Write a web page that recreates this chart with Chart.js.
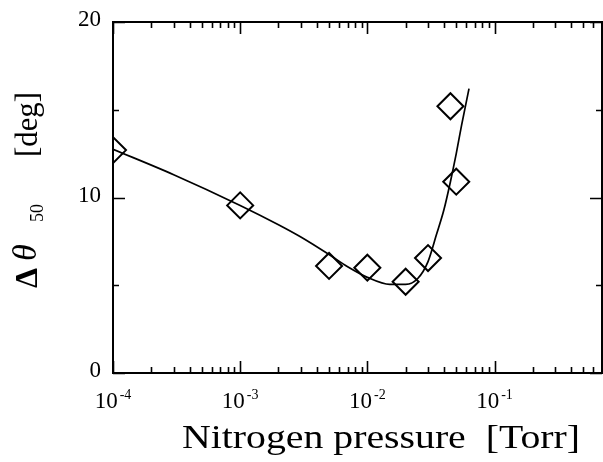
<!DOCTYPE html>
<html lang="en">
<head>
    <meta charset="UTF-8">
    <title>Nitrogen pressure dependence</title>
    <script src="https://cdn.jsdelivr.net/npm/chart.js"></script>
    <style>
        body {
            margin: 0;
            background-color: #fff;
        }
        #wrap {
            width: 603px;
            height: 462px;
        }
    </style>
</head>
<body>
    <div id="wrap"><canvas id="chart" width="603" height="462"></canvas></div>

    <script>
        // measured points
        const pressure = [1e-4, 1e-3, 5e-3, 1e-2, 2e-2, 3e-2, 4.5e-2, 5e-2];
        const dTheta = [12.7, 9.55, 6.1, 6.0, 5.2, 6.55, 15.2, 10.9];

        // fitted curve
        const fitPressure = [1e-4, 3e-4, 1e-3, 2e-3, 3e-3, 5e-3, 7e-3, 1e-2, 1.5e-2, 2e-2, 2.5e-2, 3e-2, 3.5e-2, 4e-2, 4.5e-2, 5e-2, 5.5e-2, 6.3e-2];
        const fitTheta = [12.75, 11.3, 9.55, 8.45, 7.75, 6.75, 6.05, 5.45, 5.05, 5.05, 5.4, 6.35, 7.9, 9.3, 10.9, 12.5, 14.1, 16.2];

        // axes
        const xDecades = [1e-4, 1e-3, 1e-2, 1e-1];
        const xDecadeExp = ['-4', '-3', '-2', '-1'];
        const yLabelTicks = [0, 10, 20];
        const yMinorTicks = [5, 15];
        const xMin = 1e-4, xMax = 0.7;

        const FONT = '"Liberation Serif", "Times New Roman", serif';

        const framePlugin = {
            id: 'frame',
            afterDatasetsDraw(chart) {
                const ctx = chart.ctx;
                const a = chart.chartArea;
                const xs = chart.scales.x;
                const ys = chart.scales.y;
                ctx.save();
                ctx.strokeStyle = '#000';
                ctx.fillStyle = '#000';

                // box
                ctx.lineWidth = 2;
                ctx.strokeRect(a.left, a.top, a.right - a.left, a.bottom - a.top);

                // x ticks (inward, bottom and top)
                ctx.lineWidth = 1.6;
                const xTick = (v, len) => {
                    const px = Math.round(xs.getPixelForValue(v)) + 0.5;
                    ctx.beginPath();
                    ctx.moveTo(px, a.bottom); ctx.lineTo(px, a.bottom - len);
                    ctx.moveTo(px, a.top); ctx.lineTo(px, a.top + len);
                    ctx.stroke();
                };
                xDecades.forEach(d => {
                    xTick(d, 12);
                    for (let m = 2; m <= 9; m++) {
                        if (d * m <= xMax * 1.0001) xTick(d * m, 6);
                    }
                });

                // y ticks (inward, left and right)
                const yTick = (v, len) => {
                    const py = Math.round(ys.getPixelForValue(v)) + 0.5;
                    ctx.beginPath();
                    ctx.moveTo(a.left, py); ctx.lineTo(a.left + len, py);
                    ctx.moveTo(a.right, py); ctx.lineTo(a.right - len, py);
                    ctx.stroke();
                };
                yLabelTicks.forEach(v => yTick(v, 12));
                yMinorTicks.forEach(v => yTick(v, 6));

                // y tick labels
                ctx.font = '23px ' + FONT;
                ctx.textAlign = 'right';
                ctx.textBaseline = 'middle';
                yLabelTicks.forEach(v => {
                    ctx.fillText(String(v), a.left - 12, ys.getPixelForValue(v) - 2);
                });

                // x tick labels 10^n
                ctx.textAlign = 'left';
                ctx.textBaseline = 'alphabetic';
                xDecades.forEach((d, i) => {
                    const px = xs.getPixelForValue(d);
                    ctx.font = '23px ' + FONT;
                    const wBase = ctx.measureText('10').width;
                    ctx.font = '14px ' + FONT;
                    const wExp = ctx.measureText(xDecadeExp[i]).width;
                    const start = px - (wBase + 2 + wExp) / 2;
                    ctx.font = '23px ' + FONT;
                    ctx.fillText('10', start, 408);
                    ctx.font = '14px ' + FONT;
                    ctx.fillText(xDecadeExp[i], start + wBase + 2, 399);
                });

                // x title, stretched a little to the reference width
                ctx.font = '34px ' + FONT;
                const xTitle = 'Nitrogen pressure  [Torr]';
                const w0 = ctx.measureText(xTitle).width;
                ctx.save();
                ctx.translate(182, 448);
                ctx.scale(398 / w0, 1);
                ctx.fillText(xTitle, 0, 0);
                ctx.restore();

                // y title, rotated
                ctx.save();
                ctx.translate(37, 288);
                ctx.rotate(-Math.PI / 2);
                ctx.font = 'bold 32px ' + FONT;
                ctx.fillText('\u0394', 0, 0);
                ctx.font = 'italic 34px ' + FONT;
                ctx.fillText('\u03B8', 27, -1);
                ctx.font = '18px ' + FONT;
                ctx.fillText('50', 66, 6);
                ctx.font = '31px ' + FONT;
                const wDeg = ctx.measureText('[deg]').width;
                ctx.save();
                ctx.translate(131, 0);
                ctx.scale(65 / wDeg, 1);
                ctx.fillText('[deg]', 0, 0);
                ctx.restore();
                ctx.restore();

                ctx.restore();
            }
        };

        const fitData = fitPressure.map((p, i) => ({ x: p, y: fitTheta[i] }));
        const pointData = pressure.map((p, i) => ({ x: p, y: dTheta[i] }));

        new Chart(document.getElementById('chart').getContext('2d'), {
            type: 'scatter',
            data: {
                datasets: [
                    {
                        label: 'fit',
                        data: fitData,
                        showLine: true,
                        pointRadius: 0,
                        borderColor: '#000',
                        borderWidth: 1.7,
                        cubicInterpolationMode: 'monotone',
                        fill: false
                    },
                    {
                        label: 'measured',
                        data: pointData,
                        showLine: false,
                        pointStyle: 'rectRot',
                        pointRadius: 13,
                        pointBorderWidth: 2,
                        borderColor: '#000',
                        pointBorderColor: '#000',
                        backgroundColor: 'rgba(0,0,0,0)',
                        pointBackgroundColor: 'rgba(0,0,0,0)'
                    }
                ]
            },
            options: {
                responsive: false,
                animation: false,
                devicePixelRatio: 1,
                layout: {
                    autoPadding: false,
                    padding: { left: 113, right: 1, top: 22, bottom: 89 }
                },
                plugins: {
                    legend: { display: false },
                    tooltip: { enabled: false }
                },
                scales: {
                    x: { type: 'logarithmic', min: xMin, max: xMax, bounds: 'data', display: false },
                    y: { type: 'linear', min: 0, max: 20, display: false }
                }
            },
            plugins: [framePlugin]
        });
    </script>
</body>
</html>
